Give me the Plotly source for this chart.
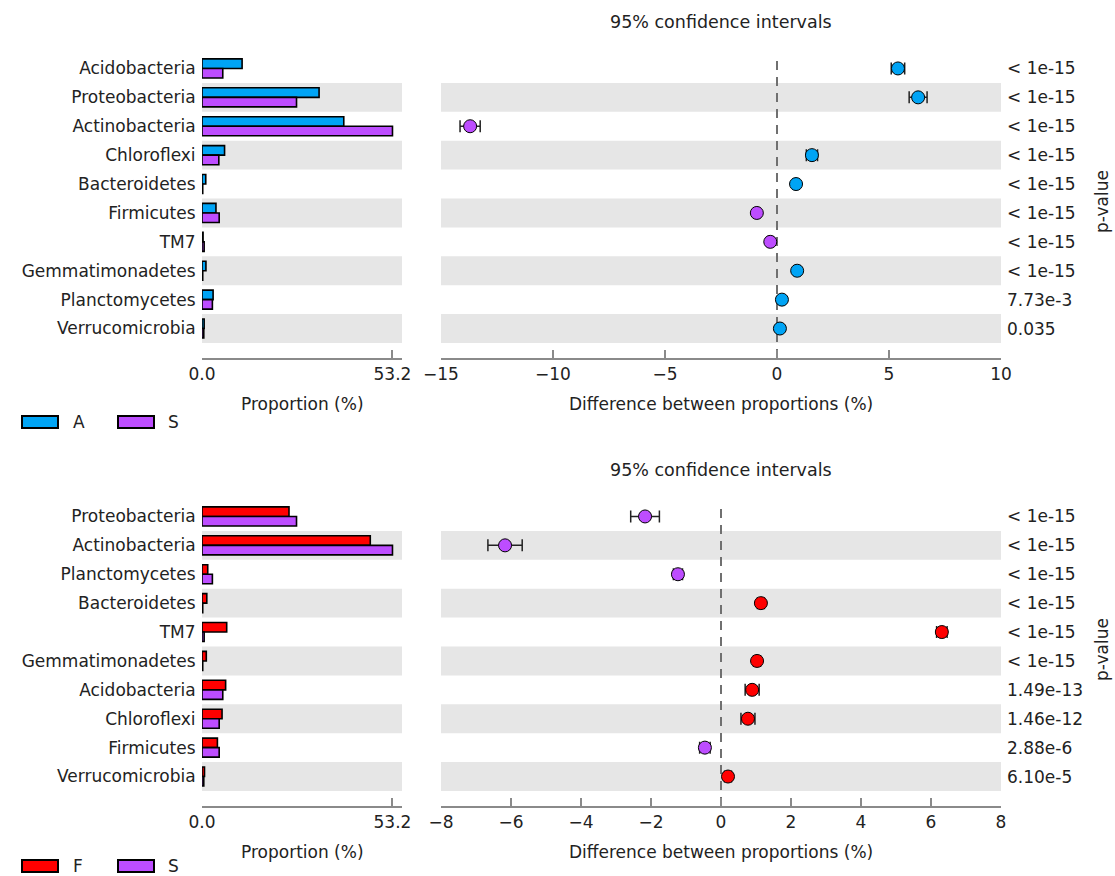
import plotly.graph_objects as go

# ---------------- data ----------------
# Panel 1: A vs S
taxa1 = ["Acidobacteria", "Proteobacteria", "Actinobacteria", "Chloroflexi", "Bacteroidetes",
         "Firmicutes", "TM7", "Gemmatimonadetes", "Planctomycetes", "Verrucomicrobia"]
prop1_A = [11.2, 32.7, 39.6, 6.3, 1.05, 3.9, 0.3, 1.1, 3.1, 0.6]
prop1_S = [5.8, 26.4, 53.2, 4.7, 0.2, 4.8, 0.6, 0.2, 2.9, 0.5]
diff1 = [5.4, 6.3, -13.7, 1.56, 0.85, -0.9, -0.3, 0.9, 0.22, 0.13]
ci1 = [0.3, 0.4, 0.45, 0.25, 0.12, 0.12, 0.1, 0.12, 0.1, 0.08]
pval1 = ["< 1e-15"] * 8 + ["7.73e-3", "0.035"]

# Panel 2: F vs S
taxa2 = ["Proteobacteria", "Actinobacteria", "Planctomycetes", "Bacteroidetes", "TM7",
         "Gemmatimonadetes", "Acidobacteria", "Chloroflexi", "Firmicutes", "Verrucomicrobia"]
prop2_F = [24.3, 47.0, 1.6, 1.34, 6.9, 1.2, 6.6, 5.6, 4.3, 0.7]
prop2_S = [26.4, 53.2, 2.9, 0.2, 0.6, 0.2, 5.8, 4.8, 4.8, 0.5]
diff2 = [-2.17, -6.17, -1.23, 1.14, 6.31, 1.03, 0.89, 0.77, -0.46, 0.2]
ci2 = [0.41, 0.49, 0.13, 0.1, 0.15, 0.1, 0.2, 0.2, 0.15, 0.1]
pval2 = ["< 1e-15"] * 6 + ["1.49e-13", "1.46e-12", "2.88e-6", "6.10e-5"]

prop_max = 53.2
diff_range1 = [-15, 10]
diff_ticks1 = [-15, -10, -5, 0, 5, 10]
diff_range2 = [-8, 8]
diff_ticks2 = [-8, -6, -4, -2, 0, 2, 4, 6, 8]

# ---------------- style ----------------
W, H = 1115, 876
BLUE = "#00A4F5"
PURPLE = "#BD4DFF"
RED = "#FF0000"
BAND = "#E6E6E6"
FONT = "DejaVu Sans"
FS = 17
AXC = "#8a8a8a"
TXT = "#222"


def px_x(x):
    return x / W


def px_y(y):
    return 1 - y / H


fig = go.Figure()

panels = [
    dict(taxa=taxa1, g1=prop1_A, g2=prop1_S, n1="A", n2="S", c1=BLUE, c2=PURPLE,
         diff=diff1, ci=ci1, pv=pval1, drange=diff_range1, dticks=diff_ticks1,
         top=54, bot=358, leg=422),
    dict(taxa=taxa2, g1=prop2_F, g2=prop2_S, n1="F", n2="S", c1=RED, c2=PURPLE,
         diff=diff2, ci=ci2, pv=pval2, drange=diff_range2, dticks=diff_ticks2,
         top=502, bot=806, leg=866),
]

bar_dom = [px_x(202), px_x(402)]
diff_dom = [px_x(441), px_x(1001)]

shapes = []
annotations = []
layout_axes = {}


def txt(text, x, y, xanchor="center", xref="paper", yref="paper", size=FS, **kw):
    return dict(text=text, xref=xref, yref=yref, x=x, y=y, xanchor=xanchor, yanchor="middle",
                showarrow=False, font=dict(family=FONT, size=size, color=TXT), **kw)


for k, p in enumerate(panels):
    xa_bar = "x" if k == 0 else "x3"
    ya_bar = "y" if k == 0 else "y3"
    xa_dif = "x2" if k == 0 else "x4"
    ya_dif = "y2" if k == 0 else "y4"
    n = len(p["taxa"])
    ydom = [px_y(p["bot"]), px_y(p["top"])]
    yrange = [n - 0.5 + 0.52, -0.5]

    fig.add_trace(go.Bar(y=p["taxa"], x=p["g1"], orientation="h", name=p["n1"],
                         marker=dict(color=p["c1"], line=dict(color="black", width=1.6)),
                         xaxis=xa_bar, yaxis=ya_bar, showlegend=False))
    fig.add_trace(go.Bar(y=p["taxa"], x=p["g2"], orientation="h", name=p["n2"],
                         marker=dict(color=p["c2"], line=dict(color="black", width=1.6)),
                         xaxis=xa_bar, yaxis=ya_bar, showlegend=False))

    colors = [p["c1"] if d > 0 else p["c2"] for d in p["diff"]]
    fig.add_trace(go.Scatter(y=p["taxa"], x=p["diff"], mode="markers",
                             marker=dict(color=colors, size=13, line=dict(color="black", width=1)),
                             error_x=dict(type="data", array=p["ci"], color=TXT, thickness=1.5, width=6),
                             xaxis=xa_dif, yaxis=ya_dif, showlegend=False))

    # grey bands on alternate rows
    for i, t in enumerate(p["taxa"]):
        if i % 2 == 1:
            for xa, ya in ((xa_bar, ya_bar), (xa_dif, ya_dif)):
                shapes.append(dict(type="rect", xref=f"{xa} domain", yref=ya,
                                   x0=0, x1=1, y0=i - 0.5, y1=i + 0.5,
                                   fillcolor=BAND, line=dict(width=0), layer="below"))
    # dashed zero line
    shapes.append(dict(type="line", xref=xa_dif, yref=f"{ya_dif} domain", x0=0, x1=0, y0=0, y1=1,
                       line=dict(color="#707070", width=2, dash="9px,7px"), layer="below"))

    axis_common = dict(showgrid=False, zeroline=False, showline=True, linecolor=AXC, linewidth=1.5,
                       ticks="inside", ticklen=8, tickcolor=AXC, tickwidth=1.5, automargin=False,
                       tickfont=dict(family=FONT, size=FS, color=TXT))
    layout_axes["xaxis" + ("" if k == 0 else "3")] = dict(
        domain=bar_dom, range=[0, prop_max * 1.05], tickvals=[0, prop_max],
        ticktext=[f"{0:.1f}", f"{prop_max:.1f}"], anchor=ya_bar, **axis_common)
    layout_axes["xaxis" + ("2" if k == 0 else "4")] = dict(
        domain=diff_dom, range=p["drange"], tickvals=p["dticks"], anchor=ya_dif, **axis_common)
    layout_axes["yaxis" + ("" if k == 0 else "3")] = dict(
        domain=ydom, type="category", categoryarray=p["taxa"], range=yrange, automargin=False,
        showgrid=False, zeroline=False, showline=False, ticks="outside", ticklen=2,
        tickcolor="rgba(0,0,0,0)", tickfont=dict(family=FONT, size=FS, color=TXT), anchor=xa_bar)
    layout_axes["yaxis" + ("2" if k == 0 else "4")] = dict(
        domain=ydom, type="category", categoryarray=p["taxa"], range=yrange, automargin=False,
        showgrid=False, zeroline=False, showline=False, showticklabels=False, anchor=xa_dif)

    # title and axis titles
    annotations.append(txt("95% confidence intervals", (diff_dom[0] + diff_dom[1]) / 2,
                           px_y(p["top"] - 32), size=17.5))
    annotations.append(txt("Proportion (%)", (bar_dom[0] + bar_dom[1]) / 2, px_y(p["bot"] + 46)))
    annotations.append(txt("Difference between proportions (%)", (diff_dom[0] + diff_dom[1]) / 2,
                           px_y(p["bot"] + 46)))
    annotations.append(txt("p-value", px_x(1102), px_y((p["top"] + p["bot"]) / 2 - 4), textangle=-90))
    for t, pv in zip(p["taxa"], p["pv"]):
        annotations.append(txt(pv, px_x(1005), t, xanchor="left", yref=ya_dif))

    # legend (manual)
    ly = p["leg"]
    for (x0, x1, col, lab, lx) in ((22, 58, p["c1"], p["n1"], 71), (118, 154, p["c2"], p["n2"], 166)):
        shapes.append(dict(type="rect", xref="paper", yref="paper",
                           x0=px_x(x0), x1=px_x(x1), y0=px_y(ly - 6), y1=px_y(ly + 6),
                           fillcolor=col, line=dict(color="black", width=2)))
        annotations.append(txt(lab, px_x(lx), px_y(ly), xanchor="left"))

fig.update_layout(
    width=W, height=H, margin=dict(l=0, r=0, t=0, b=0),
    paper_bgcolor="white", plot_bgcolor="white",
    barmode="group", bargap=0.34, bargroupgap=0,
    shapes=shapes, annotations=annotations, showlegend=False,
    font=dict(family=FONT, size=FS, color=TXT),
    **layout_axes,
)

fig.write_html("out.html", config={"displayModeBar": False},
               post_script="document.body.style.margin='0';document.body.style.overflow='hidden';")
